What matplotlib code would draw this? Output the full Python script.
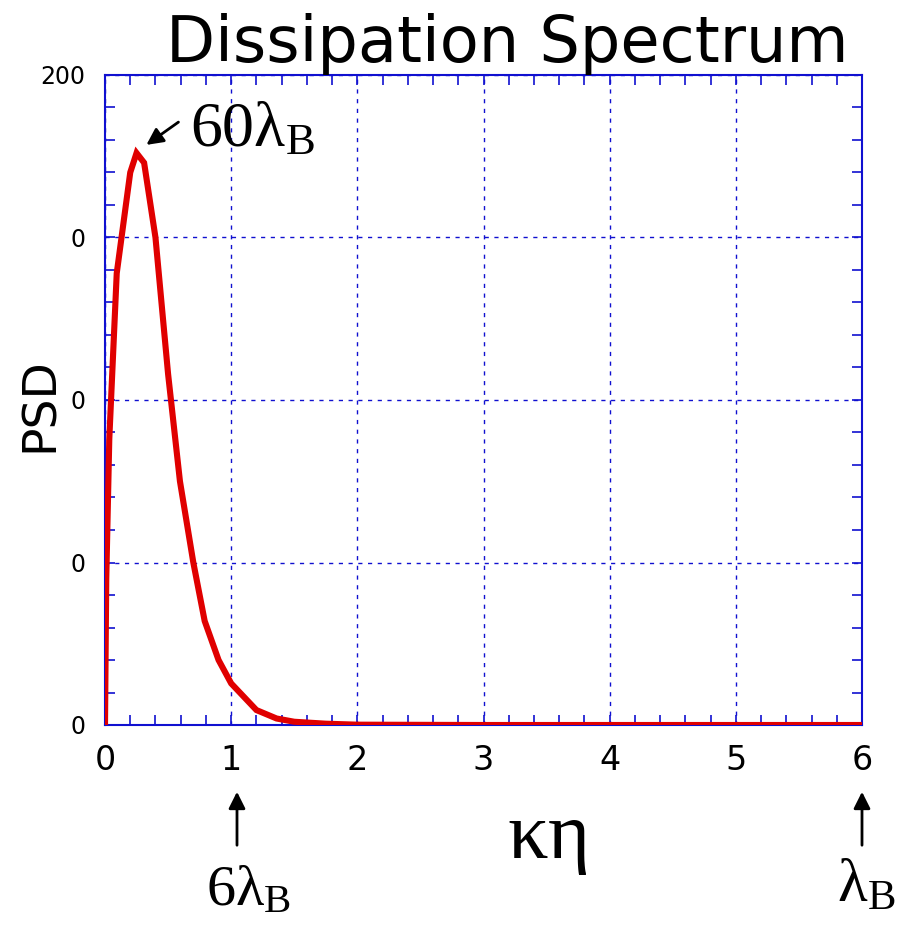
import numpy as np
import matplotlib
matplotlib.use("Agg")
import matplotlib.pyplot as plt
from matplotlib.ticker import MultipleLocator

plt.rcParams['mathtext.fontset'] = 'custom'
plt.rcParams['mathtext.rm'] = 'Liberation Serif'
plt.rcParams['mathtext.it'] = 'Liberation Serif'

# Dissipation spectrum
k_eta = [0.0, 0.01, 0.034, 0.093, 0.2, 0.25, 0.31, 0.40, 0.50, 0.594, 0.70,
         0.79, 0.90, 1.0, 1.2, 1.36, 1.5, 1.75, 2.0, 3.0, 4.0, 5.0, 6.0]
psd = [0.0, 45.0, 88.0, 139.0, 170.0, 176.0, 173.0, 150.0, 108.0, 75.0, 50.0,
       32.0, 20.0, 12.8, 4.6, 2.0, 1.0, 0.4, 0.1, 0.0, 0.0, 0.0, 0.0]

x_ticks = [0, 1, 2, 3, 4, 5, 6]
y_ticks = [0, 50, 100, 150, 200]
y_tick_labels = ["0", "0", "0", "0", "200"]

blue = '#1010d0'

fig = plt.figure(figsize=(9.07, 9.30), dpi=100)
ax = fig.add_axes([105 / 907, 1 - 725 / 930, 757 / 907, 650 / 930])

ax.plot(k_eta, psd, color='#e00000', lw=4.4, solid_joinstyle='miter', zorder=3)

ax.set_xlim(0, 6)
ax.set_ylim(0, 200)
ax.set_xticks(x_ticks)
ax.set_yticks(y_ticks)
ax.set_yticklabels(y_tick_labels)
ax.xaxis.set_minor_locator(MultipleLocator(0.2))
ax.yaxis.set_minor_locator(MultipleLocator(10))
ax.tick_params(which='both', direction='in', top=True, right=True,
               color=blue, length=7, width=1.2)
ax.tick_params(axis='x', labelsize=24, pad=14)
ax.tick_params(axis='y', labelsize=17, pad=14)
for s in ax.spines.values():
    s.set_color(blue)
    s.set_linewidth(1.5)
ax.grid(True, which='major', color=blue, ls=(0, (3, 4)), lw=1.0)

fig.text(507 / 907, 1 - 62 / 930, "Dissipation Spectrum", fontsize=46,
         ha='center', va='baseline')
fig.text(40 / 907, 1 - 405 / 930, "PSD", fontsize=34, rotation=90,
         ha='center', va='center')
fig.text(547 / 907, 1 - 858 / 930, r"$\mathrm{\kappa\eta}$", fontsize=58,
         ha='center', va='baseline')

# peak annotation
ax.annotate("", xy=(0.31, 178), xytext=(0.6, 186),
            arrowprops=dict(arrowstyle='-|>', color='k', lw=2, mutation_scale=25))
ax.text(0.67, 178, r"$\mathrm{60\lambda_B}$", fontsize=46, va='baseline')

# bottom markers
fig.text(249 / 907, 1 - 905 / 930, r"$\mathrm{6\lambda_B}$", fontsize=42,
         ha='center', va='baseline')
fig.text(866 / 907, 1 - 902 / 930, r"$\mathrm{\lambda_B}$", fontsize=44,
         ha='center', va='baseline')
for xa in [237, 862]:
    fig.add_artist(matplotlib.patches.FancyArrowPatch(
        (xa / 907, 1 - 848 / 930), (xa / 907, 1 - 789 / 930),
        transform=fig.transFigure, arrowstyle='-|>', color='k', lw=2,
        mutation_scale=25))

fig.savefig("out.png", dpi=100)
